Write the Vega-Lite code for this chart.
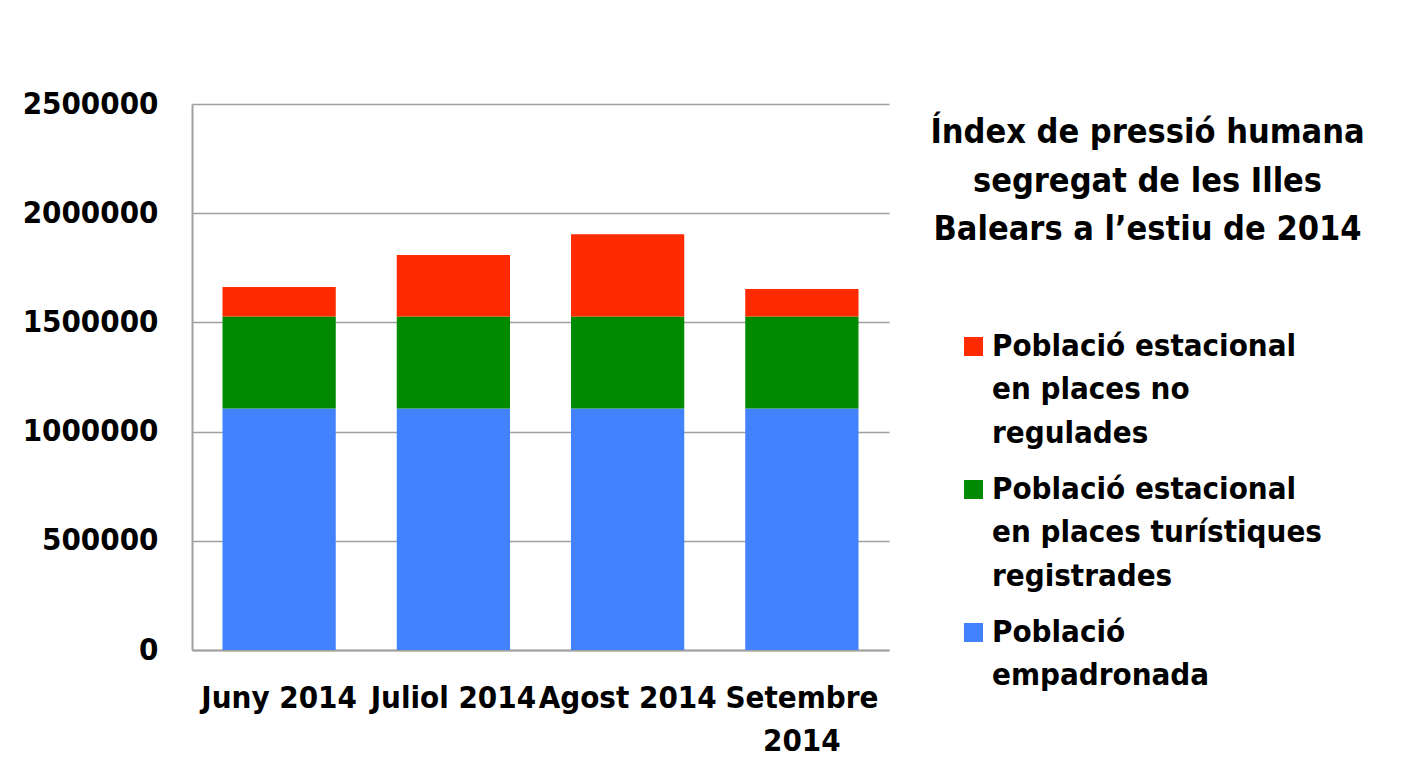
{
  "$schema": "https://vega.github.io/schema/vega-lite/v6.json",
  "width": 697,
  "height": 546,
  "autosize": "none",
  "padding": {"left": 192, "top": 104, "right": 526, "bottom": 107},
  "background": "white",
  "title": {
    "text": ["Índex de pressió humana", "segregat de les Illes", "Balears a l’estiu de 2014"],
    "orient": "top",
    "anchor": "middle",
    "frame": "group",
    "baseline": "top",
    "offset": 0,
    "dx": 607,
    "dy": 159,
    "font": "DejaVu Sans Condensed, Liberation Sans Narrow, Roboto",
    "fontSize": 34,
    "fontWeight": "bold",
    "lineHeight": 48.5,
    "color": "#000000"
  },
  "data": {
    "values": [
      {"mes": "Juny 2014", "tipus": "Població empadronada", "ordre": 1, "valor": 1106000},
      {"mes": "Juny 2014", "tipus": "Població estacional en places turístiques registrades", "ordre": 2, "valor": 421000},
      {"mes": "Juny 2014", "tipus": "Població estacional en places no regulades", "ordre": 3, "valor": 135000},
      {"mes": "Juliol 2014", "tipus": "Població empadronada", "ordre": 1, "valor": 1106000},
      {"mes": "Juliol 2014", "tipus": "Població estacional en places turístiques registrades", "ordre": 2, "valor": 421000},
      {"mes": "Juliol 2014", "tipus": "Població estacional en places no regulades", "ordre": 3, "valor": 282000},
      {"mes": "Agost 2014", "tipus": "Població empadronada", "ordre": 1, "valor": 1106000},
      {"mes": "Agost 2014", "tipus": "Població estacional en places turístiques registrades", "ordre": 2, "valor": 421000},
      {"mes": "Agost 2014", "tipus": "Població estacional en places no regulades", "ordre": 3, "valor": 377000},
      {"mes": "Setembre 2014", "tipus": "Població empadronada", "ordre": 1, "valor": 1106000},
      {"mes": "Setembre 2014", "tipus": "Població estacional en places turístiques registrades", "ordre": 2, "valor": 421000},
      {"mes": "Setembre 2014", "tipus": "Població estacional en places no regulades", "ordre": 3, "valor": 126000}
    ]
  },
  "mark": {"type": "bar"},
  "encoding": {
    "x": {
      "field": "mes",
      "type": "nominal",
      "sort": ["Juny 2014", "Juliol 2014", "Agost 2014", "Setembre 2014"],
      "scale": {"paddingInner": 0.35, "paddingOuter": 0.175},
      "axis": {
        "title": null,
        "labelAngle": 0,
        "labelPadding": 33,
        "labelBaseline": "top",
        "labelExpr": "datum.label == 'Setembre 2014' ? ['Setembre', '2014'] : datum.label",
        "labelLimit": 400,
        "ticks": false,
        "domainColor": "#a0a0a0",
        "domainWidth": 2
      }
    },
    "y": {
      "field": "valor",
      "type": "quantitative",
      "stack": "zero",
      "scale": {"domain": [0, 2500000]},
      "axis": {
        "title": null,
        "values": [0, 500000, 1000000, 1500000, 2000000, 2500000],
        "format": "d",
        "ticks": false,
        "labelPadding": 34,
        "domainColor": "#a0a0a0",
        "domainWidth": 2,
        "gridColor": "#a0a0a0",
        "gridWidth": 1.5,
        "gridOpacity": 1
      }
    },
    "color": {
      "field": "tipus",
      "type": "nominal",
      "scale": {
        "domain": ["Població estacional en places no regulades", "Població estacional en places turístiques registrades", "Població empadronada"],
        "range": ["#ff2a00", "#008a00", "#4282ff"]
      },
      "legend": {
        "orient": "none",
        "legendX": 766,
        "legendY": 227,
        "title": null,
        "symbolType": "square",
        "symbolSize": 361,
        "symbolStrokeWidth": 0,
        "symbolOpacity": 1,
        "labelOffset": 3,
        "labelLimit": 600,
        "rowPadding": 24,
        "labelExpr": "datum.label == 'Població estacional en places no regulades' ? ['Població estacional', 'en places no', 'regulades'] : datum.label == 'Població estacional en places turístiques registrades' ? ['Població estacional', 'en places turístiques', 'registrades'] : ['Població', 'empadronada']"
      }
    },
    "order": {"field": "ordre", "type": "quantitative"}
  },
  "config": {
    "font": "DejaVu Sans Condensed, Liberation Sans Narrow, Roboto",
    "view": {"stroke": null},
    "axis": {
      "labelFont": "DejaVu Sans Condensed, Liberation Sans Narrow, Roboto",
      "labelFontSize": 31,
      "labelFontWeight": "bold",
      "labelColor": "#000000",
      "labelLineHeight": 43
    },
    "legend": {
      "labelFont": "DejaVu Sans Condensed, Liberation Sans Narrow, Roboto",
      "labelFontSize": 31,
      "labelFontWeight": "bold",
      "labelColor": "#000000"
    },
    "style": {
      "guide-label": {"lineHeight": 43.5}
    }
  }
}
